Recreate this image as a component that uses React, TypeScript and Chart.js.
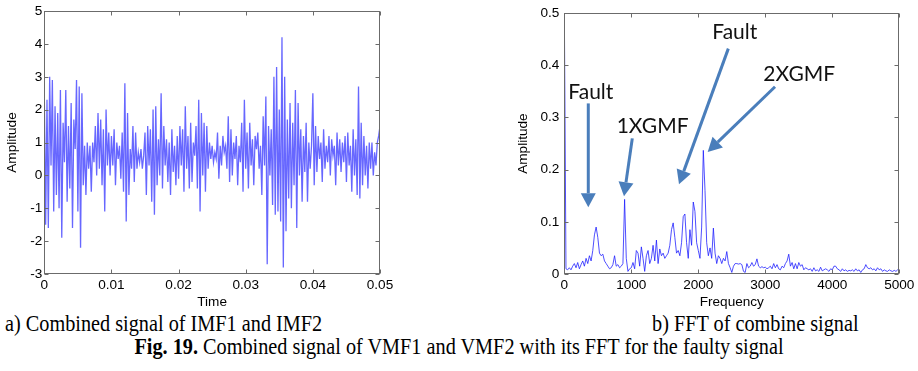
import React, { useEffect, useRef } from "react";
import { Chart, registerables } from "chart.js";

Chart.register(...registerables);

// ---------- Data ----------
const timeStep = 0.0002; // s between samples
const signalValues: number[] = [
  2.5, -1.5, 2.3, -1.6, 3.0, 0.3, 2.9, -1.1, 2.1, -0.6, 1.9, -1.0, 2.6, -1.9, 1.6, 0.4, 2.6, -0.8, 1.5, -0.4, 2.2, -1.6, 1.7, 0.8, 2.9,
  -1.1, 2.7, -2.2, 2.5, -0.3, 0.9, -0.6, 1.0, 0.2, 0.9, -0.5, 1.0, 0.4, 1.5, 0.0, 1.9, 0.2, 1.7, -0.3, 1.4, -1.1, 2.0, 0.3, 1.3, 0.0,
  1.2, 0.3, 1.4, -0.3, 1.0, 0.5, 0.9, -0.1, 1.3, -0.5, 2.8, -1.4, 1.9, -0.6, 0.8, 0.2, 1.5, -0.2, 1.3, 0.2, 0.7, 0.4, 0.8, 0.2, 0.6,
  1.3, -0.6, 1.5, 0.3, 1.4, -0.8, 2.0, -1.2, 2.1, -0.3, 1.1, 0.0, 2.5, -0.4, 1.5, 0.3, 1.1, -0.2, 1.0, -0.6, 1.4, 0.1, 0.9, -0.3, 1.2,
  -0.1, 1.5, 0.3, 1.4, -0.5, 2.1, 0.2, 1.2, -0.4, 1.6, -0.2, 1.0, 0.6, 1.5, -0.4, 2.3, -1.1, 1.9, 0.0, 1.6, -0.5, 1.5, 0.2, 1.0, 0.5,
  0.9, 0.4, 0.7, 0.5, 1.3, -0.1, 0.9, 0.3, 1.2, 0.7, 0.9, 0.2, 1.8, -0.2, 1.4, 0.0, 1.0, 0.5, 1.2, -0.3, 0.9, 0.4, 1.6, -0.5, 2.3,
  0.2, 1.3, -0.4, 1.6, 0.3, 1.1, -0.3, 1.2, 0.8, 1.3, 0.2, 0.9, -0.6, 1.8, 0.3, 2.4, -2.7, 1.5, 0.0, 1.4, -0.9, 3.0, -1.2, 3.3, -1.1,
  2.0, -1.4, 4.2, -2.8, 3.0, -1.7, 1.7, -0.7, 2.2, -1.0, 1.6, -0.3, 2.6, -1.6, 2.2, 0.0, 1.4, -0.8, 1.2, 0.1, 1.6, -0.8, 1.0, 0.2, 0.9,
  2.5, -0.3, 1.5, 0.1, 1.2, 0.5, 1.0, -0.2, 1.4, 0.2, 0.9, 0.4, 1.2, 0.0, 1.1, 0.6, 0.9, -0.3, 1.3, 0.3, 1.1, 0.1, 1.0, 0.4, 1.2,
  -0.2, 1.3, 0.3, 0.9, -0.5, 1.4, 0.0, 1.1, -0.6, 2.7, -0.7, 1.6, -0.3, 1.2, 0.0, 0.9, -0.4, 1.0, 0.2, 1.0, 0.0, 0.7, 0.3, 1.0, 1.2, 1.5,
];

const freqStep = 25; // Hz between FFT bins
const fftValues: number[] = [
  0.52, 0.01, 0.008, 0.012, 0.008, 0.015, 0.02, 0.012, 0.022, 0.01,
  0.018, 0.025, 0.015, 0.03, 0.02, 0.035, 0.025, 0.045, 0.075, 0.09,
  0.07, 0.04, 0.035, 0.038, 0.025, 0.02, 0.015, 0.01, 0.012, 0.018,
  0.035, 0.015, 0.018, 0.012, 0.015, 0.02, 0.143, 0.03, 0.005, 0.01,
  0.012, 0.022, 0.01, 0.045, 0.04, 0.015, 0.052, 0.03, 0.005, 0.035,
  0.045, 0.02, 0.03, 0.055, 0.025, 0.065, 0.02, 0.048, 0.035, 0.04,
  0.03, 0.035, 0.04, 0.055, 0.085, 0.098, 0.07, 0.04, 0.045, 0.035,
  0.06, 0.11, 0.115, 0.06, 0.03, 0.085, 0.055, 0.138, 0.12, 0.06,
  0.045, 0.03, 0.09, 0.237, 0.16, 0.06, 0.035, 0.05, 0.03, 0.088,
  0.04, 0.02, 0.035, 0.03, 0.02, 0.03, 0.025, 0.043, 0.02, 0.012,
  0.003, 0.015, 0.02, 0.02, 0.019, 0.02, 0.018, 0.005, 0.003, 0.02,
  0.012, 0.015, 0.022, 0.015, 0.018, 0.029, 0.015, 0.012, 0.014, 0.012,
  0.013, 0.01, 0.012, 0.015, 0.01, 0.02, 0.012, 0.018, 0.01, 0.008,
  0.015, 0.012, 0.02, 0.025, 0.038, 0.015, 0.022, 0.01, 0.02, 0.01,
  0.022, 0.015, 0.018, 0.008, 0.012, 0.01, 0.008, 0.01, 0.005, 0.012,
  0.006, 0.008, 0.005, 0.013, 0.006, 0.008, 0.01, 0.008, 0.005, 0.01,
  0.008, 0.015, 0.015, 0.01, 0.008, 0.005, 0.01, 0.006, 0.008, 0.005,
  0.007, 0.006, 0.008, 0.005, 0.01, 0.006, 0.008, 0.003, 0.008, 0.01,
  0.018, 0.012, 0.01, 0.012, 0.008, 0.01, 0.006, 0.012, 0.008, 0.01,
  0.005, 0.008, 0.006, 0.005, 0.008, 0.006, 0.005, 0.007, 0.005, 0.008,
  0.008,
];

// Annotation labels and arrows on the FFT plot (data units)
const annotationLabels = ["Fault", "1XGMF", "Fault", "2XGMF"];
const labelAnchors: [number, number][] = [
  [60, 0.348],
  [781, 0.283],
  [2209, 0.464],
  [2970, 0.383],
];
const arrowStarts: [number, number][] = [
  [358, 0.327],
  [1015, 0.26],
  [2448, 0.432],
  [3145, 0.359],
];
const arrowTips: [number, number][] = [
  [358, 0.128],
  [891, 0.149],
  [1712, 0.172],
  [2140, 0.234],
];

// ---------- Styling helpers ----------
const AXIS_FONT = { family: "'Liberation Sans', Arial, sans-serif", size: 13.6 };
const AXIS_COLOR = "#6b6b6b";

const fmt = (v: number | string) => String(Math.round(Number(v) * 1e6) / 1e6);

const framePlugin = {
  id: "matlabFrame",
  afterDatasetsDraw(chart: any) {
    const { ctx, chartArea: a, scales } = chart;
    const xs = scales.x;
    const ys = scales.y;
    ctx.save();
    ctx.strokeStyle = AXIS_COLOR;
    ctx.lineWidth = 1;
    const L = Math.round(a.left) + 0.5;
    const R = Math.round(a.right) - 0.5;
    const T = Math.round(a.top) + 0.5;
    const B = Math.round(a.bottom) - 0.5;
    ctx.strokeRect(L, T, R - L, B - T);
    const len = 4;
    ctx.beginPath();
    xs.ticks.forEach((t: any) => {
      const px = Math.round(xs.getPixelForValue(t.value)) + 0.5;
      ctx.moveTo(px, B);
      ctx.lineTo(px, B - len);
      ctx.moveTo(px, T);
      ctx.lineTo(px, T + len);
    });
    ys.ticks.forEach((t: any) => {
      const py = Math.round(ys.getPixelForValue(t.value)) + 0.5;
      ctx.moveTo(L, py);
      ctx.lineTo(L + len, py);
      ctx.moveTo(R, py);
      ctx.lineTo(R - len, py);
    });
    ctx.stroke();
    ctx.restore();
  },
};

const arrowPlugin = {
  id: "fftArrows",
  afterDraw(chart: any) {
    const { ctx, scales } = chart;
    const xs = scales.x;
    const ys = scales.y;
    ctx.save();
    const color = "#4a7ebb";
    ctx.strokeStyle = color;
    ctx.fillStyle = color;
    arrowStarts.forEach((s, i) => {
      const x0 = xs.getPixelForValue(s[0]);
      const y0 = ys.getPixelForValue(s[1]);
      const x1 = xs.getPixelForValue(arrowTips[i][0]);
      const y1 = ys.getPixelForValue(arrowTips[i][1]);
      const ang = Math.atan2(y1 - y0, x1 - x0);
      const headLen = 14;
      const headHalf = 7.5;
      const bx = x1 - headLen * Math.cos(ang);
      const by = y1 - headLen * Math.sin(ang);
      ctx.lineWidth = 3;
      ctx.beginPath();
      ctx.moveTo(x0, y0);
      ctx.lineTo(bx, by);
      ctx.stroke();
      ctx.beginPath();
      ctx.moveTo(x1, y1);
      ctx.lineTo(bx + headHalf * Math.sin(ang), by - headHalf * Math.cos(ang));
      ctx.lineTo(bx - headHalf * Math.sin(ang), by + headHalf * Math.cos(ang));
      ctx.closePath();
      ctx.fill();
    });
    ctx.fillStyle = "#111";
    ctx.font = "21px Lato, 'Noto Sans', sans-serif";
    ctx.textAlign = "left";
    ctx.textBaseline = "middle";
    annotationLabels.forEach((txt, i) => {
      const x = xs.getPixelForValue(labelAnchors[i][0]);
      const y = ys.getPixelForValue(labelAnchors[i][1]);
      ctx.fillText(txt, x, y);
    });
    ctx.restore();
  },
};

function makeOptions(opts: {
  xMin: number; xMax: number; xStep: number; xTitle: string;
  yMin: number; yMax: number; yStep: number;
  yWidth: number; yPad: number; yTitlePad: number; padLeft: number; padRight: number;
}) {
  return {
    animation: false,
    responsive: false,
    devicePixelRatio: 1,
    layout: { padding: { left: opts.padLeft, right: opts.padRight, top: 11, bottom: 0 } },
    plugins: { legend: { display: false }, tooltip: { enabled: false } },
    elements: { point: { radius: 0 }, line: { tension: 0 } },
    scales: {
      x: {
        type: "linear",
        min: opts.xMin,
        max: opts.xMax,
        grid: { display: false, drawTicks: false },
        border: { display: false },
        ticks: { stepSize: opts.xStep, color: "#000", font: AXIS_FONT, padding: 3, maxRotation: 0, callback: fmt },
        title: { display: true, text: opts.xTitle, color: "#000", font: AXIS_FONT, padding: { top: 2, bottom: 0 } },
        afterFit: (s: any) => { s.height = 36; },
      },
      y: {
        type: "linear",
        min: opts.yMin,
        max: opts.yMax,
        grid: { display: false, drawTicks: false },
        border: { display: false },
        ticks: { stepSize: opts.yStep, color: "#000", font: AXIS_FONT, padding: opts.yPad, callback: fmt },
        title: { display: true, text: "Amplitude", color: "#000", font: AXIS_FONT, padding: { top: opts.yTitlePad, bottom: 0 } },
        afterFit: (s: any) => { s.width = opts.yWidth; },
      },
    },
  };
}

function TimeChart() {
  const ref = useRef<HTMLCanvasElement>(null);
  useEffect(() => {
    if (!ref.current) return;
    const data = signalValues.map((v, i) => ({ x: i * timeStep, y: v }));
    const chart = new Chart(ref.current, {
      type: "line",
      data: {
        datasets: [
          { data, borderColor: "rgba(25,25,255,0.66)", borderWidth: 1.3, pointRadius: 0, fill: false },
        ],
      },
      options: makeOptions({
        xMin: 0, xMax: 0.05, xStep: 0.01, xTitle: "Time",
        yMin: -3, yMax: 5, yStep: 1,
        yWidth: 44.3, yPad: 2, yTitlePad: 3.6, padLeft: 0, padRight: 20,
      }) as any,
      plugins: [framePlugin],
    });
    return () => chart.destroy();
  }, []);
  return (
    <canvas ref={ref} width={400} height={310}
      style={{ position: "absolute", left: 0, top: 0, width: 400, height: 310 }} />
  );
}

function FftChart() {
  const ref = useRef<HTMLCanvasElement>(null);
  useEffect(() => {
    if (!ref.current) return;
    const data = fftValues.map((v, i) => ({ x: i * freqStep, y: v }));
    const chart = new Chart(ref.current, {
      type: "line",
      data: {
        datasets: [
          { data, borderColor: "rgba(30,30,255,0.78)", borderWidth: 1, pointRadius: 0, fill: false },
        ],
      },
      options: makeOptions({
        xMin: 0, xMax: 5000, xStep: 1000, xTitle: "Frequency",
        yMin: 0, yMax: 0.5, yStep: 0.1,
        yWidth: 54.3, yPad: 5, yTitlePad: 5.2, padLeft: 30, padRight: 18.7,
      }) as any,
      plugins: [framePlugin, arrowPlugin],
    });
    return () => chart.destroy();
  }, []);
  return (
    <canvas ref={ref} width={438} height={310}
      style={{ position: "absolute", left: 480, top: 0, width: 438, height: 310 }} />
  );
}

export default function App() {
  const serif = "'Liberation Serif', 'Times New Roman', serif";
  const cap: React.CSSProperties = {
    position: "absolute", fontFamily: serif, fontSize: 22.5, lineHeight: "24px", color: "#000",
    whiteSpace: "nowrap", transform: "scaleX(0.9)", transformOrigin: "left center",
  };
  return (
    <div style={{ position: "absolute", left: 0, top: 0, width: 918, height: 371, background: "#fff", overflow: "hidden" }}>
      <TimeChart />
      <FftChart />
      <div style={{ ...cap, left: 5, top: 312 }}>a) Combined signal of IMF1 and IMF2</div>
      <div style={{ ...cap, left: 652, top: 312 }}>b) FFT of combine signal</div>
      <div style={{ ...cap, left: 459, top: 335, transform: "translateX(-50%) scaleX(0.9)", transformOrigin: "center center" }}>
        <b>Fig. 19.</b> Combined signal of VMF1 and VMF2 with its FFT for the faulty signal
      </div>
    </div>
  );
}
